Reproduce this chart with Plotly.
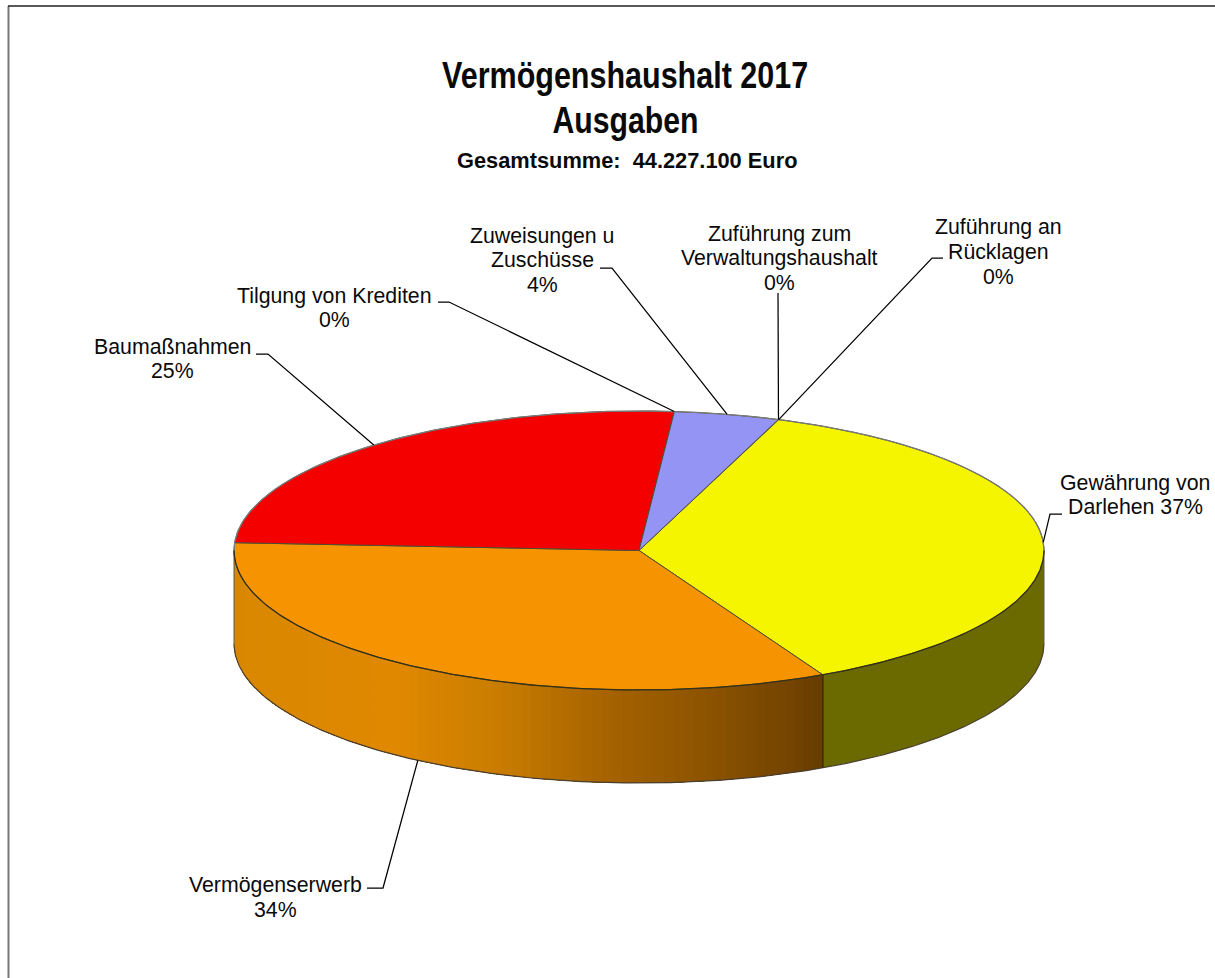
import numpy as np
import plotly.graph_objects as go

# ---- data ----
categories = ["Gewährung von Darlehen", "Vermögenserwerb", "Baumaßnahmen",
              "Tilgung von Krediten", "Zuweisungen u Zuschüsse",
              "Zuführung zum Verwaltungshaushalt", "Zuführung an Rücklagen"]
values = [36.9, 33.4, 25.5, 0.01, 4.2, 0.01, 0.01]
percent_labels = ["37%", "34%", "25%", "0%", "4%", "0%", "0%"]
title_lines = ["Vermögenshaushalt 2017", "Ausgaben"]
subtitle = "Gesamtsumme:\u00a0\u00a044.227.100 Euro"

# ---- style / layout ----
top_colors = ["#F5F500", "#F59300", "#F50000", "#808080", "#9494F5", "#808080", "#808080"]
first_angle = 20.2
CX, CY, RX, RY, DEPTH = 639.0, 550.5, 405.0, 139.5, 93.0
W, H = 1215, 978
FONT = "Liberation Sans, Arial, sans-serif"

total = sum(values)
spans = [v / total * 360 for v in values]
starts = first_angle + np.concatenate([[0], np.cumsum(spans)[:-1]])
ends = starts + np.array(spans)
mids = (starts + ends) / 2


def px(theta):
    return CX + RX * np.sin(np.radians(theta))


def py(theta, drop=0.0):
    return CY - RY * np.cos(np.radians(theta)) + drop


fig = go.Figure()


def poly(xs, ys, fill, line=None, width=1.0):
    fig.add_trace(go.Scatter(
        x=xs, y=ys, mode="lines", fill="toself" if fill else "none", fillcolor=fill,
        line=dict(color=line or "rgba(0,0,0,0)", width=width if line else 0),
        hoverinfo="skip", showlegend=False))


def side_points(a, b):
    th = np.linspace(a, b, max(int(abs(b - a) * 2), 2))
    return (list(px(th)) + list(px(th[::-1])),
            list(py(th)) + list(py(th[::-1], DEPTH)))


# shading of the orange wall, by horizontal position
grad_x = [234, 400, 500, 600, 700, 790, 822]
grad_r = [216, 224, 200, 168, 142, 116, 102]
grad_g = [136, 136, 124, 100, 84, 68, 60]

# yellow wall (visible only up to the rim at 90 deg)
xs, ys = side_points(90, ends[0])
poly(xs, ys, "#6A6A00")

# orange wall: overlapping pieces, each one painted from its edge to the wall's end
a0, a1 = ends[0], 270.0
edges = np.linspace(a0, a1, 81)
for p, q in zip(edges[:-1], edges[1:]):
    xm = px((p + q) / 2)
    r = np.interp(xm, grad_x, grad_r)
    g = np.interp(xm, grad_x, grad_g)
    xs, ys = side_points(p, a1)
    poly(xs, ys, f"rgb({r:.0f},{g:.0f},0)")

# wall outlines
th = np.linspace(90, 270, 300)
poly(list(px(th)), list(py(th, DEPTH)), None, "#4a4030", 1.2)
for t in [90, 270]:
    poly([px(t), px(t)], [py(t), py(t, DEPTH)], None, "#5a5a5a", 1.0)
poly([px(ends[0])] * 2, [py(ends[0]), py(ends[0], DEPTH)], None, "#2a2000", 1.2)

# top faces
for s, e, c, v in zip(starts, ends, top_colors, values):
    if v < 0.5:
        continue
    th = np.linspace(s, e, max(int(e - s) * 3, 2))
    poly([CX] + list(px(th)) + [CX], [CY] + list(py(th)) + [CY], c, "#4d4d33", 1.0)

# rim: grey at the back, dark at the front
th = np.linspace(-90, 90, 300)
poly(list(px(th)), list(py(th)), None, "#7a7a7a", 1.3)
th = np.linspace(90, 270, 300)
poly(list(px(th)), list(py(th)), None, "#33301a", 1.3)

# leader lines: from each slice's rim point to a label elbow
elbows = [[(1062, 514), (1050, 514)], [(367, 888), (383, 888)], [(256, 354), (268, 354)],
          [(438, 302), (449, 302)], [(600, 268), (612, 268)], [(778, 293)],
          [(943, 258), (932, 258)]]
anchor_drop = [0, DEPTH, 0, 0, 0, 0, 0]
for el, ang, dr in zip(elbows, mids, anchor_drop):
    xs = [p[0] for p in el] + [float(px(ang))]
    ys = [p[1] for p in el] + [float(py(ang, dr))]
    poly(xs, ys, None, "#000000", 1.25)

# frame: only the top and left rules are visible
poly([8.5, 8.5], [6, H], None, "#777777", 2.0)
poly([8, W], [6, 6], None, "#222222", 1.3)


def text(x, y, s, size, weight="normal"):
    fig.add_annotation(x=x, y=y, text=s, showarrow=False,
                       xanchor="center", yanchor="middle",
                       font=dict(family=FONT, size=size, color="#0a0a0a", weight=weight))


text(625, 75, title_lines[0], 37, "bold")
text(625, 120, title_lines[1], 37, "bold")
text(627, 160, subtitle, 21.8, "bold")

LBL = 21.3
label_rows = [
    (1135, [483, 507], ["Gewährung von", f"Darlehen {percent_labels[0]}"]),
    (275, [885, 910], [categories[1], percent_labels[1]]),
    (172.5, [347, 371], [categories[2], percent_labels[2]]),
    (334.5, [296, 320], [categories[3], percent_labels[3]]),
    (542, [236, 260, 285], ["Zuweisungen u", "Zuschüsse", percent_labels[4]]),
    (779.5, [234, 258, 283], ["Zuführung zum", "Verwaltungshaushalt", percent_labels[5]]),
    (998, [227, 252, 277], ["Zuführung an", "Rücklagen", percent_labels[6]]),
]
for cx, ys, rows in label_rows:
    for y, s in zip(ys, rows):
        text(cx, y, s, LBL)

fig.update_layout(
    width=W, height=H, margin=dict(l=0, r=0, t=0, b=0),
    paper_bgcolor="white", plot_bgcolor="white", showlegend=False,
    xaxis=dict(range=[0, W], visible=False, fixedrange=True),
    yaxis=dict(range=[H, 0], visible=False, fixedrange=True),
)

# The title face in the reference is condensed: squeeze the two title lines with SVG textLength.
post = """
document.body.style.margin='0';document.body.style.overflow='hidden';
function squeeze(){
  document.querySelectorAll('.annotation-text').forEach(function(t){
    var s=t.textContent;
    var n = s.indexOf('Vermögenshaushalt')===0 ? 366 : (s==='Ausgaben' ? 146 : 0);
    if(n){t.setAttribute('textLength',n);t.setAttribute('lengthAdjust','spacingAndGlyphs');}
  });
}
squeeze();setTimeout(squeeze,100);setTimeout(squeeze,500);
"""
fig.write_html("out.html", config={"displayModeBar": False}, post_script=post)
